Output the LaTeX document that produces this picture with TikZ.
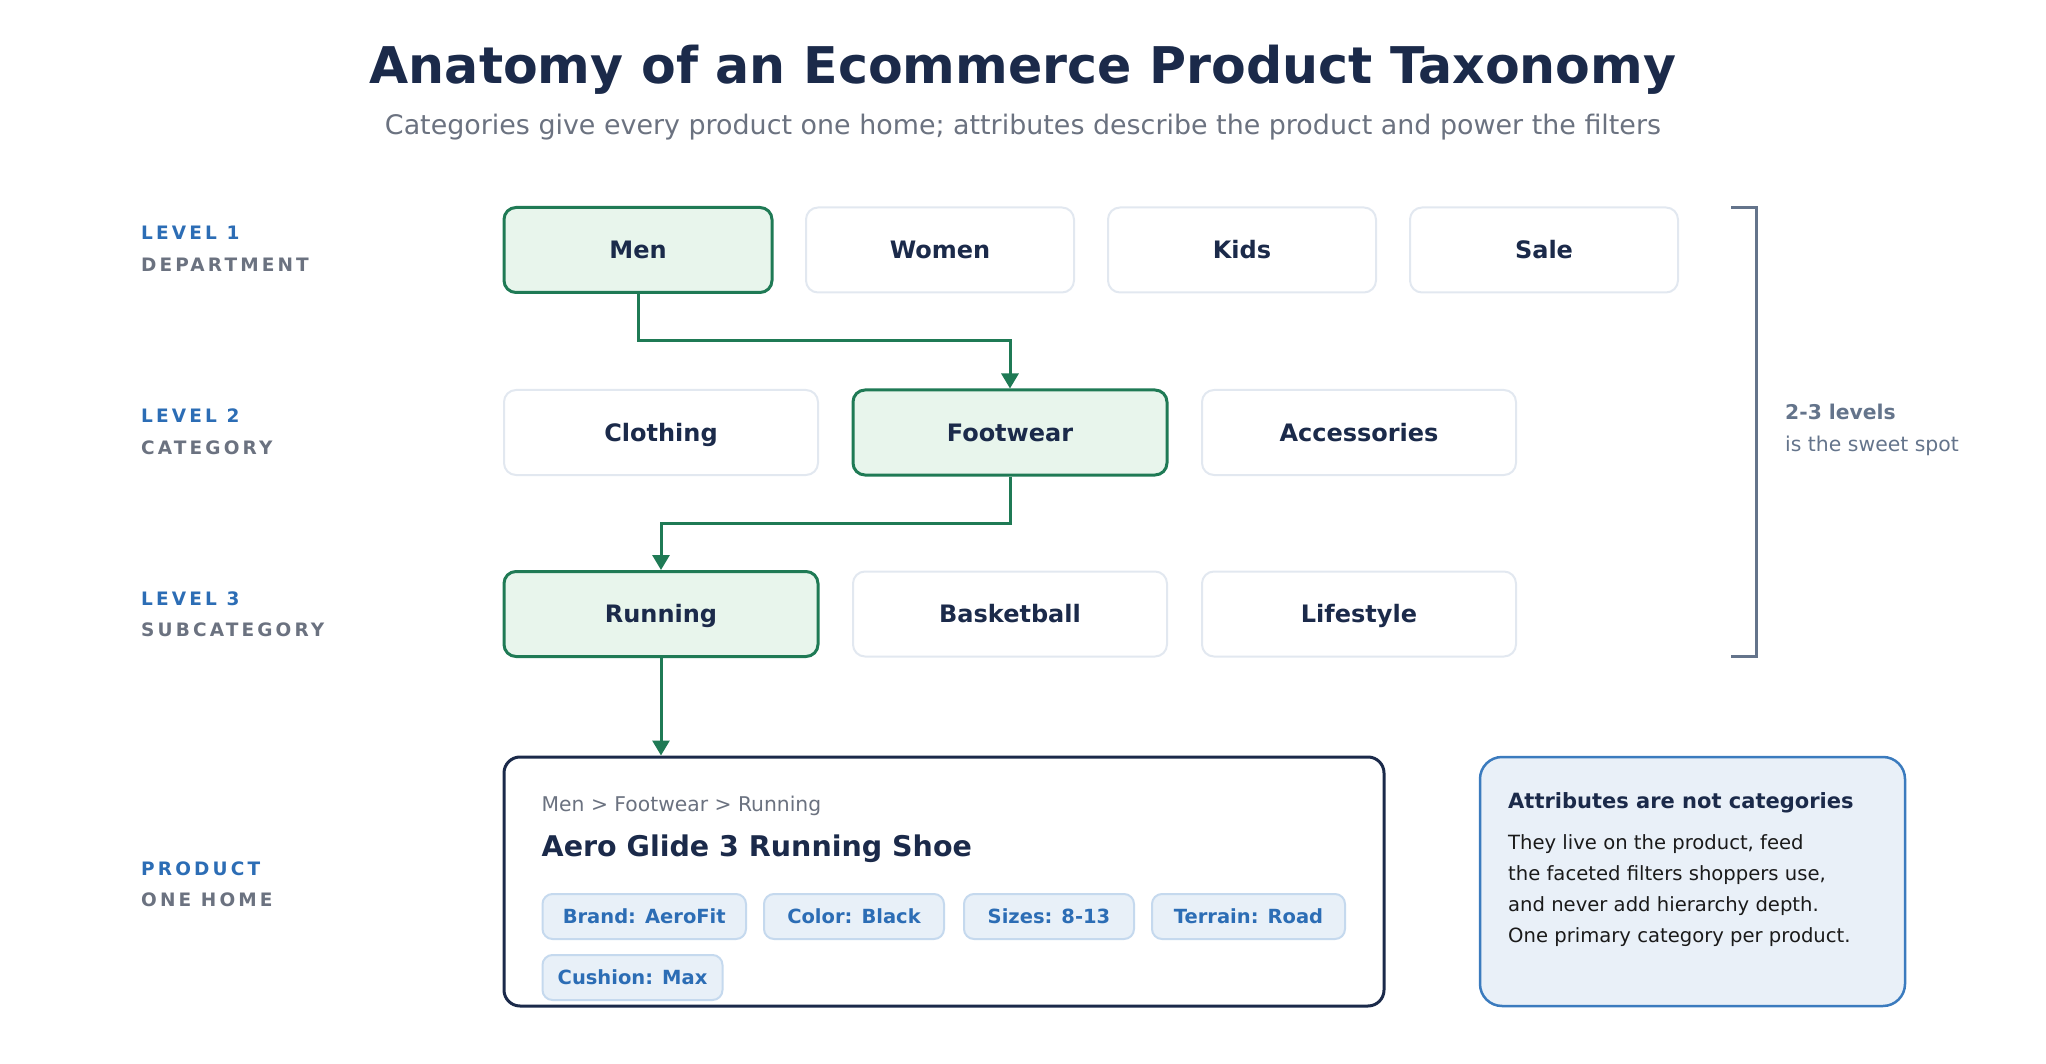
\documentclass[tikz,border=0pt]{standalone}
\usepackage{fontspec}
\setmainfont{DejaVu Sans}
\newfontfamily\spacedfont[LetterSpace=17]{DejaVu Sans}
\usetikzlibrary{arrows.meta,positioning}
\definecolor{navy}{HTML}{1B2A4A}
\definecolor{subgray}{HTML}{6B7280}
\definecolor{lvlblue}{HTML}{2C6DB5}
\definecolor{selgreen}{HTML}{1F7A55}
\definecolor{selfill}{HTML}{E8F5EC}
\definecolor{boxline}{HTML}{E2E8F0}
\definecolor{slate}{HTML}{64748B}
\definecolor{chipfill}{HTML}{E8F0F8}
\definecolor{chipline}{HTML}{C5D9EE}
\definecolor{notefill}{HTML}{E9F0F8}
\definecolor{noteline}{HTML}{3B7BBE}
\definecolor{bodytext}{HTML}{1A1A1A}
\tikzset{
  catbox/.style={draw=boxline, line width=2pt, fill=white, rounded corners=12pt,
    minimum height=85pt, inner sep=0pt, text=navy,
    font=\fontsize{24}{28}\selectfont\bfseries, text height=17.5pt, text depth=0pt},
  lonebox/.style={catbox, minimum width=268pt},
  widebox/.style={catbox, minimum width=314pt},
  selected/.style={draw=selgreen, fill=selfill, line width=3pt},
  conn/.style={draw=selgreen, line width=3pt, -{Triangle[length=15pt,width=17pt]}},
  lvl/.style={anchor=base west, inner sep=0pt, text=lvlblue, font=\fontsize{18.5}{22}\spacedfont\bfseries},
  lvlsub/.style={anchor=base west, inner sep=0pt, text=subgray, font=\fontsize{18.5}{22}\spacedfont\bfseries},
  chip/.style={draw=chipline, fill=chipfill, line width=2pt, rounded corners=10pt,
    minimum height=45pt, inner xsep=0pt, inner ysep=0pt, anchor=west, text=lvlblue,
    font=\fontsize{19.5}{24}\selectfont\bfseries, text height=14.2pt, text depth=0pt},
  bodyline/.style={anchor=base west, inner sep=0pt, text=bodytext, font=\fontsize{19.6}{24}\selectfont},
}
\begin{document}
\begin{tikzpicture}[x=1pt,y=-1pt]
\useasboundingbox (0,0) rectangle (2046,1064);
% title
\node[anchor=base, inner sep=0pt, text=navy, font=\fontsize{50.6}{60}\selectfont\bfseries] (title) at (1023,84) {Anatomy of an Ecommerce Product Taxonomy};
\node[anchor=base, inner sep=0pt, text=subgray, font=\fontsize{26.9}{32}\selectfont] (subtitle) at (1023,135) {Categories give every product one home; attributes describe the product and power the filters};
% level labels
\node[lvl] (l1) at (141,240) {LEVEL 1};
\node[lvlsub] (l1s) at (141,271.5) {DEPARTMENT};
\node[lvl] (l2) at (141,422.5) {LEVEL 2};
\node[lvlsub] (l2s) at (141,454) {CATEGORY};
\node[lvl] (l3) at (141,605.5) {LEVEL 3};
\node[lvlsub] (l3s) at (141,636.5) {SUBCATEGORY};
\node[lvl] (l4) at (141,875.5) {PRODUCT};
\node[lvlsub] (l4s) at (141,906.5) {ONE HOME};
% level 1
\node[lonebox, selected] (men) at (638,250) {Men};
\node[lonebox] (women) at (940,250) {Women};
\node[lonebox] (kids) at (1242,250) {Kids};
\node[lonebox] (sale) at (1544,250) {Sale};
% level 2
\node[widebox] (cloth) at (661,432.5) {Clothing};
\node[widebox, selected] (foot) at (1010,432.5) {Footwear};
\node[widebox] (acc) at (1359,432.5) {Accessories};
% level 3
\node[widebox, selected] (run) at (661,614) {Running};
\node[widebox] (bask) at (1010,614) {Basketball};
\node[widebox] (life) at (1359,614) {Lifestyle};
% product card
\node[draw=navy, line width=3pt, fill=white, rounded corners=16pt, minimum width=880pt, minimum height=249pt, inner sep=0pt] (prod) at (944,881.5) {};
\node[anchor=base west, inner sep=0pt, text=subgray, font=\fontsize{20.3}{24}\selectfont] (crumb) at (541.5,811) {Men > Footwear > Running};
\node[anchor=base west, inner sep=0pt, text=navy, font=\fontsize{28.5}{34}\selectfont\bfseries] (pname) at (541.5,856) {Aero Glide 3 Running Shoe};
\node[chip, minimum width=203.5pt] (brand) at (541.5,916.5) {Brand: AeroFit};
\node[chip, minimum width=180pt] (color) at (763,916.5) {Color: Black};
\node[chip, minimum width=170pt] (sizes) at (963,916.5) {Sizes: 8-13};
\node[chip, minimum width=193pt] (terrain) at (1151,916.5) {Terrain: Road};
\node[chip, minimum width=180pt] (cushion) at (541.5,977.5) {Cushion: Max};
% note
\node[draw=noteline, line width=2.5pt, fill=notefill, rounded corners=22pt, minimum width=425pt, minimum height=249pt, inner sep=0pt] (note) at (1692.5,881.5) {};
\node[anchor=base west, inner sep=0pt, text=navy, font=\fontsize{21}{25}\selectfont\bfseries] (ntitle) at (1508,808) {Attributes are not categories};
\node[bodyline] (nb1) at (1508,849.5) {They live on the product, feed};
\node[bodyline] (nb2) at (1508,880.5) {the faceted filters shoppers use,};
\node[bodyline] (nb3) at (1508,911.5) {and never add hierarchy depth.};
\node[bodyline] (nb4) at (1508,942.5) {One primary category per product.};
% bracket
\coordinate (bt0) at (1731,207.5);
\coordinate (bt1) at (1756,207.5);
\coordinate (bb1) at (1756,656);
\coordinate (bb0) at (1731,656);
\draw[slate, line width=3pt] (bt0) -- (bt1) -- (bb1) -- (bb0);
\node[anchor=base west, inner sep=0pt, text=slate, font=\fontsize{20.3}{24}\selectfont\bfseries] (sweet1) at (1785,420) {2-3 levels};
\node[anchor=base west, inner sep=0pt, text=slate, font=\fontsize{20.4}{24}\selectfont] (sweet2) at (1785,451.5) {is the sweet spot};
% connectors
\draw[conn] (men.south) -- ++(0,46.5) -| (foot.north);
\draw[conn] (foot.south) -- ++(0,47) -| (run.north);
\draw[conn] (run.south) -- (run.south |- prod.north);
\end{tikzpicture}
\end{document}
